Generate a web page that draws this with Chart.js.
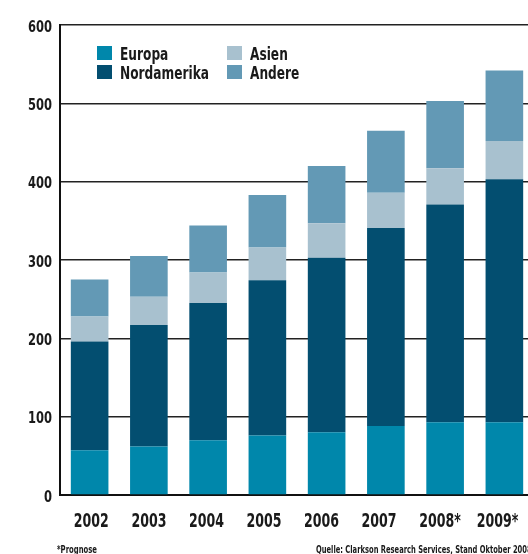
<!DOCTYPE html>
<html>
<head>
<meta charset="utf-8">
<script src="https://cdn.jsdelivr.net/npm/chart.js@4"></script>
<style>
  html, body { margin: 0; padding: 0; background: #fff; overflow: hidden; }
  #wrap { position: relative; width: 540px; height: 554px; }
</style>
</head>
<body>
<div id="wrap"><canvas id="chart"></canvas></div>
<script>
// Werte (gestapelt, von unten nach oben)
const years = ['2002', '2003', '2004', '2005', '2006', '2007', '2008*', '2009*'];
const europa      = [57, 62, 70, 76, 80, 88, 93, 93];
const nordamerika = [139, 155, 175, 198, 223, 253, 278, 310];
const asien       = [32, 36, 39, 42, 44, 45, 46, 49];
const andere      = [47, 52, 60, 67, 73, 79, 86, 90];
const yTicks = [0, 100, 200, 300, 400, 500, 600];

const FONT = "'DejaVu Sans', sans-serif";
const INK = '#1a1a1a';

// schmal gesetzte Schrift: horizontal gestaucht, Breite an einem Musterwort ausgerichtet
function narrowScale(ctx, font, sample, width) {
    ctx.font = font;
    return width / ctx.measureText(sample).width;
}

function narrowText(ctx, text, x, y, sx, align) {
    const w = ctx.measureText(text).width * sx;
    let x0 = x;
    if (align === 'right') x0 = x - w;
    if (align === 'center') x0 = x - w / 2;
    ctx.save();
    ctx.translate(x0, y);
    ctx.scale(sx, 1);
    ctx.fillText(text, 0, 0);
    ctx.restore();
}

const labelsPlugin = {
    id: 'labelsPlugin',
    afterDraw(chart) {
        const ctx = chart.ctx;
        const xs = chart.scales.x;
        const ys = chart.scales.y;
        ctx.save();
        ctx.fillStyle = INK;
        ctx.textBaseline = 'alphabetic';

        // y-Achse
        let f = 'bold 15px ' + FONT;
        let sx = narrowScale(ctx, f, '600', 24);
        ys.ticks.forEach(t => {
            narrowText(ctx, String(t.value), 52, ys.getPixelForValue(t.value) + 6.5, sx, 'right');
        });

        // x-Achse: Beschriftung etwas enger gesetzt als die Balken, Sternchen hängt rechts an
        f = 'bold 19px ' + FONT;
        sx = narrowScale(ctx, f, '2002', 35);
        chart.data.labels.forEach((lab, i) => {
            const cx = xs.getPixelForTick(i) + 1.7 - 1.7 * i;
            const core = lab.replace('*', '');
            const left = cx - ctx.measureText(core).width * sx / 2;
            narrowText(ctx, lab, left, 527, sx, 'left');
        });

        // Legende, zweispaltig
        const pos = [
            { x: 97, y: 46 },   // Europa
            { x: 97, y: 65 },   // Nordamerika
            { x: 227, y: 46 },  // Asien
            { x: 227, y: 65 }   // Andere
        ];
        f = 'bold 17.5px ' + FONT;
        sx = narrowScale(ctx, f, 'Nordamerika', 89);
        chart.data.datasets.forEach((d, i) => {
            const p = pos[i];
            ctx.fillStyle = d.backgroundColor;
            ctx.fillRect(p.x, p.y, 15, 14);
            ctx.fillStyle = INK;
            narrowText(ctx, d.label, p.x + 23, p.y + 14, sx, 'left');
        });

        // Fußnoten
        f = 'bold 9.6px ' + FONT;
        sx = narrowScale(ctx, f, '*Prognose', 40);
        narrowText(ctx, '*Prognose', 57, 553, sx, 'left');
        sx = narrowScale(ctx, f, 'Quelle: Clarkson Research Services, Stand Oktober 200', 211);
        narrowText(ctx, 'Quelle: Clarkson Research Services, Stand Oktober 2008', 316, 553, sx, 'left');
        ctx.restore();
    }
};

const ctx = document.getElementById('chart').getContext('2d');
new Chart(ctx, {
    type: 'bar',
    data: {
        labels: years,
        datasets: [
            { label: 'Europa', data: europa, backgroundColor: '#0087ab' },
            { label: 'Nordamerika', data: nordamerika, backgroundColor: '#034e70' },
            { label: 'Asien', data: asien, backgroundColor: '#a8c1cf' },
            { label: 'Andere', data: andere, backgroundColor: '#6399b5' }
        ]
    },
    options: {
        responsive: true,
        maintainAspectRatio: false,
        animation: false,
        events: [],
        layout: { padding: { top: 25, right: 6, bottom: 0, left: 0 } },
        datasets: {
            bar: { categoryPercentage: 1, barPercentage: 0.635, borderWidth: 0 }
        },
        plugins: {
            legend: { display: false },
            tooltip: { enabled: false }
        },
        scales: {
            x: {
                stacked: true,
                grid: { display: false, drawTicks: false },
                border: { display: true, color: '#111', width: 2 },
                ticks: {
                    color: 'rgba(0,0,0,0)',
                    maxRotation: 0,
                    autoSkip: false,
                    font: { size: 10 }
                },
                afterFit(scale) { scale.height = 59; }
            },
            y: {
                stacked: true,
                min: 0,
                max: 600,
                afterBuildTicks(scale) { scale.ticks = yTicks.map(v => ({ value: v })); },
                grid: { color: '#222', lineWidth: 1.5, drawTicks: false },
                border: { display: true, color: '#111', width: 2 },
                ticks: { color: 'rgba(0,0,0,0)', font: { size: 10 } },
                afterFit(scale) { scale.width = 60; }
            }
        }
    },
    plugins: [labelsPlugin]
});
</script>
</body>
</html>
